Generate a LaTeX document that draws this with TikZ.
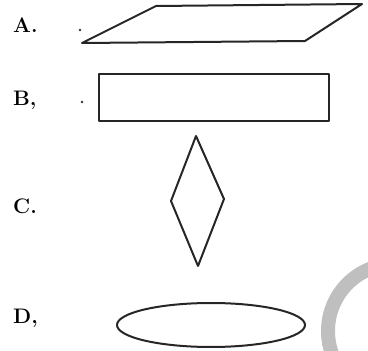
\documentclass[tikz,border=0pt]{standalone}
\usepackage{fontspec}
\usepackage{amsmath}
\usetikzlibrary{calc, positioning}

\tikzset{
  optlabel/.style={font=\fontsize{21}{23}\selectfont\bfseries, anchor=west, inner sep=0pt},
  shapeline/.style={line width=2pt, line join=round, black!85},
  speck/.style={fill=black!80, inner sep=0pt, minimum size=2.6pt, circle}
}

\begin{document}
\begin{tikzpicture}[x=1pt,y=-1pt]
\useasboundingbox (0,0) rectangle (368,351);

% watermark ring in the corner
\begin{scope}
  \clip (0,0) rectangle (368,351);
  \draw[black!25, line width=14pt] (395,331) circle (67);
\end{scope}

% option labels
\node[optlabel] (labA) at (13,25) {A.};
\node[optlabel] (labB) at (13,100) {B,};
\node[optlabel] (labC) at (13,206) {C.};
\node[optlabel] (labD) at (13,318) {D,};

% stray marks next to A and B
\node[speck] (dotA) at (80,30) {};
\node[speck] (dotB) at (82,102) {};

% A: parallelogram
\coordinate (pA1) at (82,43);
\coordinate (pA2) at (305,41);
\coordinate (pA3) at (362,4);
\coordinate (pA4) at (156,6);
\draw[shapeline] (pA1) -- (pA2) -- (pA3) -- (pA4) -- cycle;

% B: rectangle
\draw[shapeline] (99,74) rectangle (329,121);

% C: diamond
\coordinate (dTop) at (196,136);
\coordinate (dRight) at (224,199);
\coordinate (dBottom) at (198,266);
\coordinate (dLeft) at (171,201);
\draw[shapeline] (dTop) -- (dRight) -- (dBottom) -- (dLeft) -- cycle;

% D: ellipse
\draw[shapeline] (211,325) ellipse [x radius=94, y radius=22];
\end{tikzpicture}
\end{document}
